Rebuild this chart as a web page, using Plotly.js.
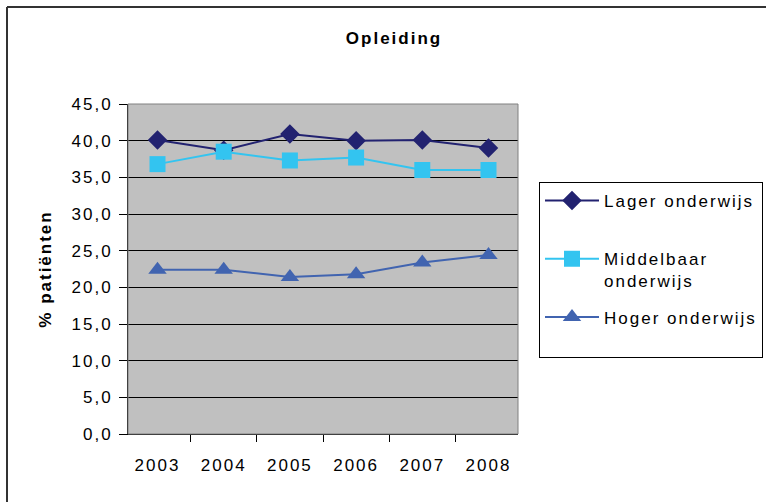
<!DOCTYPE html>
<html>
<head>
<meta charset="utf-8">
<script src="https://cdn.plot.ly/plotly-3.0.1.min.js"></script>
<style>
  html, body { margin: 0; padding: 0; background: #fff; overflow: hidden; }
  #chart { width: 766px; height: 502px; }
  text { letter-spacing: 2px; }
</style>
</head>
<body>
<div id="chart"></div>
<script>
const years = ['2003', '2004', '2005', '2006', '2007', '2008'];
const lager = [40.1, 38.7, 40.9, 40.0, 40.1, 39.0];
const middelbaar = [36.8, 38.5, 37.3, 37.7, 36.0, 36.0];
const hoger = [22.4, 22.4, 21.4, 21.8, 23.4, 24.4];
const seriesNames = ['Lager onderwijs<br> ', 'Middelbaar<br>onderwijs', 'Hoger onderwijs<br> '];
const yTicks = [0, 5, 10, 15, 20, 25, 30, 35, 40, 45];

const font = 'Liberation Sans, Arial, sans-serif';

const traces = [
  { x: years, y: lager, name: seriesNames[0], type: 'scatter', mode: 'lines+markers',
    line: { color: '#222270', width: 2 },
    marker: { symbol: 'diamond', size: 15, color: '#222270' }, legendgroup: 'a' },
  { x: years, y: middelbaar, name: seriesNames[1], type: 'scatter', mode: 'lines+markers',
    line: { color: '#33C4F0', width: 2 },
    marker: { symbol: 'square', size: 16, color: '#33C4F0' }, legendgroup: 'b' },
  { x: years, y: hoger, name: seriesNames[2], type: 'scatter', mode: 'lines+markers',
    line: { color: '#4164B0', width: 2 },
    marker: { symbol: 'triangle-up', size: 16, color: '#4164B0' }, legendgroup: 'c' }
];

const L = 128, R = 518, T = 104, B = 434, W = 766, H = 502;
const px = v => (v - L) / (R - L);
const py = v => (B - v) / (B - T);

const layout = {
  width: W, height: H,
  margin: { l: L, r: W - R, t: T, b: H - B, pad: 0, autoexpand: false },
  paper_bgcolor: '#ffffff',
  plot_bgcolor: '#C0C0C0',
  separators: ',.',
  font: { family: font, size: 17, color: '#000' },
  title: { text: '<b>Opleiding</b>', x: 394 / W, xanchor: 'center',
           y: 1 - 38 / H, yanchor: 'middle', font: { family: font, size: 17, color: '#000' } },
  xaxis: {
    type: 'category', tickson: 'boundaries', ticks: 'outside', ticklen: 7,
    tickcolor: '#000', tickwidth: 1, showline: true, linecolor: '#000', linewidth: 1,
    showgrid: false, zeroline: false, tickfont: { family: font, size: 17 },
    ticklabelstandoff: 16, fixedrange: true
  },
  yaxis: {
    range: [0, 45], tickvals: yTicks, tickformat: '.1f', ticks: 'outside', ticklen: 8,
    tickcolor: '#000', showline: true, linecolor: '#000', linewidth: 1,
    showgrid: true, gridcolor: '#000', gridwidth: 1, zeroline: false,
    tickfont: { family: font, size: 17 }, ticklabelstandoff: 3,
    title: { text: '<b>% patiënten</b>', font: { family: font, size: 17 }, standoff: 15 }
  },
  shapes: [
    { type: 'rect', xref: 'paper', yref: 'paper', x0: 0, x1: 1, y0: 0, y1: 1,
      line: { color: '#808080', width: 1 }, fillcolor: 'rgba(0,0,0,0)', layer: 'above' },
    { type: 'line', xref: 'paper', yref: 'paper', x0: px(7), x1: px(800), y0: py(7), y1: py(7),
      line: { color: '#333333', width: 2 } },
    { type: 'line', xref: 'paper', yref: 'paper', x0: px(7), x1: px(7), y0: py(7), y1: py(540),
      line: { color: '#333333', width: 2 } }
  ],
  legend: {
    x: px(539), xanchor: 'left', y: py(182), yanchor: 'top',
    bgcolor: '#fff', bordercolor: '#000', borderwidth: 1,
    font: { family: font, size: 17, color: '#000' },
    traceorder: 'grouped', tracegroupgap: 11, valign: 'top', itemwidth: 54
  },
  showlegend: true
};

Plotly.newPlot('chart', traces, layout, { displayModeBar: false, staticPlot: true });
</script>
</body>
</html>
